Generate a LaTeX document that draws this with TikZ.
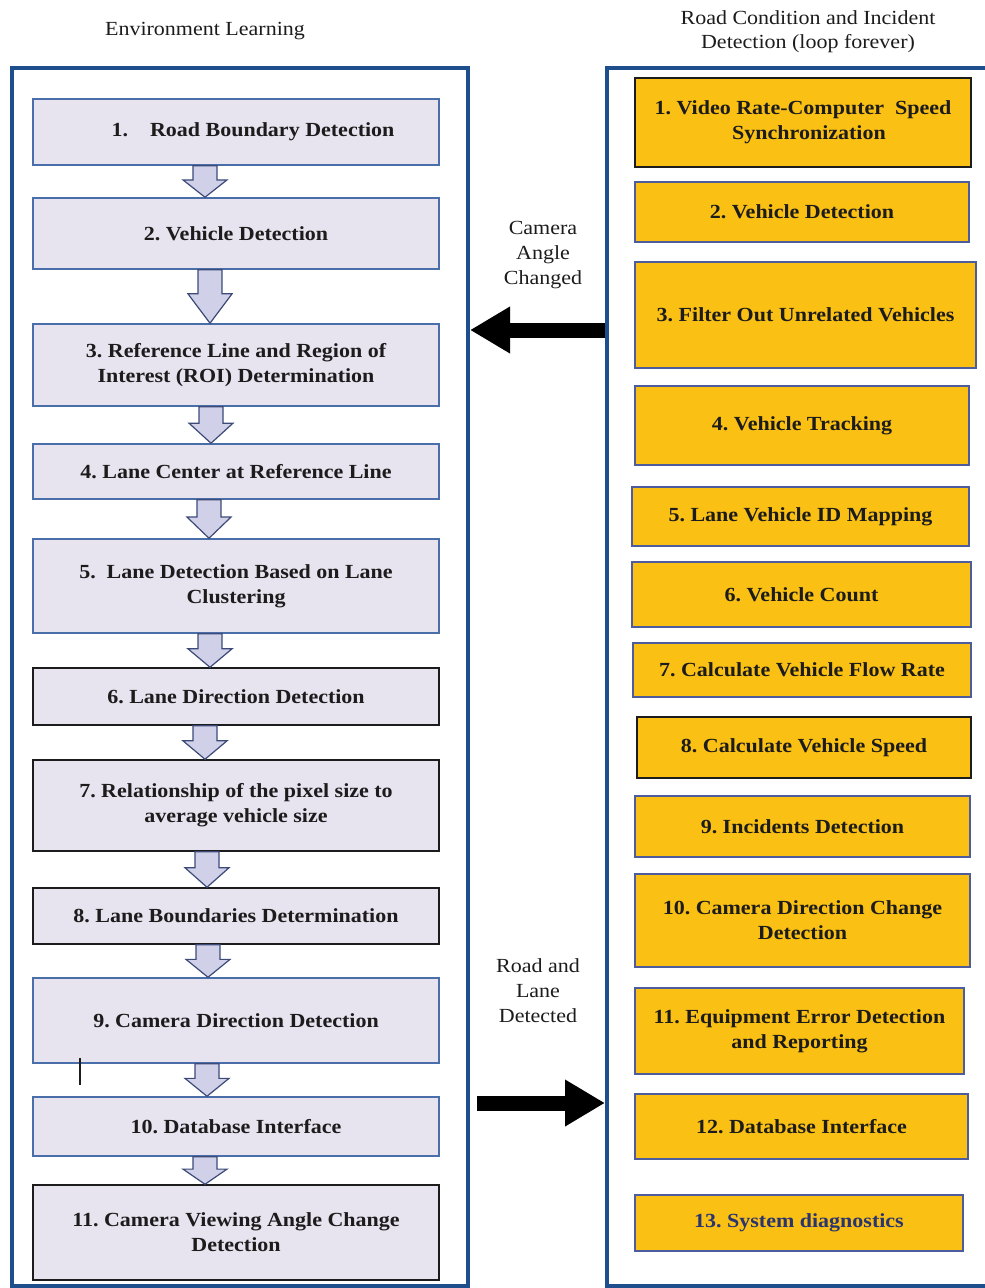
\documentclass[tikz,border=0pt]{standalone}
\usepackage{fontspec}
\setmainfont{Liberation Serif}[FakeStretch=1.1]
\usetikzlibrary{arrows.meta,calc}

\definecolor{panelblue}{HTML}{1F4E8C}
\definecolor{lavfill}{HTML}{E7E3EF}
\definecolor{lavedge}{HTML}{4A6EA9}
\definecolor{orangefill}{HTML}{FBC014}
\definecolor{orangeedge}{HTML}{4C5C9C}
\definecolor{arrowfill}{HTML}{D0D0E8}
\definecolor{arrowedge}{HTML}{3C4A78}
\definecolor{textdark}{HTML}{1C1C1C}
\definecolor{diagblue}{HTML}{2A3570}

\tikzset{
  panel/.style={draw=panelblue, line width=4pt, fill=none, inner sep=0pt},
  boxtext/.style={font=\bfseries\fontsize{20}{25}\selectfont, align=center, text=textdark, inner sep=0pt},
  lbox/.style={boxtext, rectangle, fill=lavfill, line width=1.5pt, minimum width=406pt},
  lboxblue/.style={lbox, draw=lavedge},
  lboxblack/.style={lbox, draw=textdark},
  rbox/.style={boxtext, rectangle, fill=orangefill, line width=1.5pt},
  rboxblue/.style={rbox, draw=orangeedge},
  rboxblack/.style={rbox, draw=textdark},
  headtext/.style={font=\fontsize{20}{24}\selectfont, align=center, text=textdark},
  sidetext/.style={font=\fontsize{20}{25}\selectfont, align=center, text=textdark},
  flowarrowstyle/.style={draw=arrowedge, fill=arrowfill, line width=1.2pt, line join=miter},
  bigarrow/.style={draw=black, line width=15pt, -{Triangle[length=40pt,width=44pt]}}
}

% hollow block arrow from the bottom of #1 to the top of #2, centred at x = #3
\newcommand{\flowarrow}[3]{%
  \path[flowarrowstyle] let \p1=(#1.south), \p2=(#2.north), \n1={0.55*(\y1-\y2)} in
    ({#3pt-12pt},\y1) -- ({#3pt+12pt},\y1) -- ({#3pt+12pt},{\y2+\n1}) --
    ({#3pt+22pt},{\y2+\n1}) -- ({#3pt},\y2) -- ({#3pt-22pt},{\y2+\n1}) --
    ({#3pt-12pt},{\y2+\n1}) -- cycle;}

\begin{document}
\frenchspacing
\begin{tikzpicture}[x=1pt,y=-1pt]
\useasboundingbox (0,0) rectangle (985,1288);
\clip (0,0) rectangle (985,1288);
\fill[white] (0,0) rectangle (985,1288);

% headings
\node[headtext] (hleft) at (205,31) {Environment Learning};
\node[headtext] (hright) at (808,32) {Road Condition and Incident\\Detection (loop forever)};

% panels
\node[panel, minimum width=456pt, minimum height=1218pt] (lp) at (240,677) {};
\node[panel, minimum width=393pt, minimum height=1218pt] (rp) at (803.5,677) {};

% environment learning steps
\node[lboxblue, minimum height=66pt] (l1) at (236,132) {\hspace*{34pt}1.\hspace{22pt}Road Boundary Detection};
\node[lboxblue, minimum height=71pt] (l2) at (236,233.5) {2. Vehicle Detection};
\node[lboxblue, minimum height=82pt] (l3) at (236,365) {3. Reference Line and Region of\\Interest (ROI) Determination};
\node[lboxblue, minimum height=55pt] (l4) at (236,471.5) {4. Lane Center at Reference Line};
\node[lboxblue, minimum height=94pt] (l5) at (236,586) {5.\ \ Lane Detection Based on Lane\\Clustering};
\node[lboxblack, minimum height=57pt] (l6) at (236,696.5) {6. Lane Direction Detection};
\node[lboxblack, minimum height=91pt] (l7) at (236,805.5) {7. Relationship\ of the pixel size to\\average vehicle size};
\node[lboxblack, minimum height=56pt] (l8) at (236,916) {8. Lane Boundaries Determination};
\node[lboxblue, minimum height=85pt] (l9) at (236,1020.5) {9. Camera Direction Detection};
\node[lboxblue, minimum height=59pt] (l10) at (236,1126.5) {10. Database Interface};
\node[lboxblack, minimum height=95pt] (l11) at (236,1232.5) {11. Camera Viewing Angle Change\\Detection};

\flowarrow{l1}{l2}{205}
\flowarrow{l2}{l3}{210}
\flowarrow{l3}{l4}{211}
\flowarrow{l4}{l5}{209}
\flowarrow{l5}{l6}{210}
\flowarrow{l6}{l7}{205}
\flowarrow{l7}{l8}{207}
\flowarrow{l8}{l9}{208}
\flowarrow{l9}{l10}{207}
\flowarrow{l10}{l11}{205}

% text cursor mark
\draw[line width=1.2pt, textdark] (80,1058) -- (80,1085);

% road condition and incident detection steps
\node[rboxblack, minimum width=336pt, minimum height=89pt] (r1) at (803,122.5) {1. Video Rate-Computer\ \ Speed\\\hspace*{12pt}Synchronization};
\node[rboxblue, minimum width=334pt, minimum height=60pt] (r2) at (802,212) {2. Vehicle Detection};
\node[rboxblue, minimum width=341pt, minimum height=106pt] (r3) at (805.5,315) {3. Filter Out Unrelated Vehicles};
\node[rboxblue, minimum width=334pt, minimum height=79pt] (r4) at (802,425.5) {4. Vehicle Tracking};
\node[rboxblue, minimum width=337pt, minimum height=59pt] (r5) at (800.5,516.5) {5. Lane Vehicle ID Mapping};
\node[rboxblue, minimum width=339pt, minimum height=65pt] (r6) at (801.5,594.5) {6. Vehicle Count};
\node[rboxblue, minimum width=338pt, minimum height=54pt] (r7) at (802,670) {7. Calculate Vehicle Flow Rate};
\node[rboxblack, minimum width=334pt, minimum height=61pt] (r8) at (804,747.5) {8. Calculate Vehicle Speed};
\node[rboxblue, minimum width=335pt, minimum height=61pt] (r9) at (802.5,826.5) {9. Incidents Detection};
\node[rboxblue, minimum width=335pt, minimum height=93pt] (r10) at (802.5,920.5) {10. Camera Direction Change\\Detection};
\node[rboxblue, minimum width=329pt, minimum height=86pt] (r11) at (799.5,1031) {11. Equipment Error Detection\\and Reporting};
\node[rboxblue, minimum width=333pt, minimum height=65pt] (r12) at (801.5,1126.5) {12. Database Interface};
\node[rboxblue, minimum width=328pt, minimum height=56pt, text=diagblue] (r13) at (799,1223) {13. System diagnostics};

% transitions between the two phases
\node[sidetext] (camlabel) at (543,255) {Camera\\Angle\\Changed};
\draw[bigarrow] (rp.west |- 0,330) -- (lp.east |- 0,330);
\node[sidetext] (roadlabel) at (538,991) {Road and\\Lane\\Detected};
\draw[bigarrow, shorten <=7pt] (lp.east |- 0,1103) -- (rp.west |- 0,1103);
\end{tikzpicture}
\end{document}
